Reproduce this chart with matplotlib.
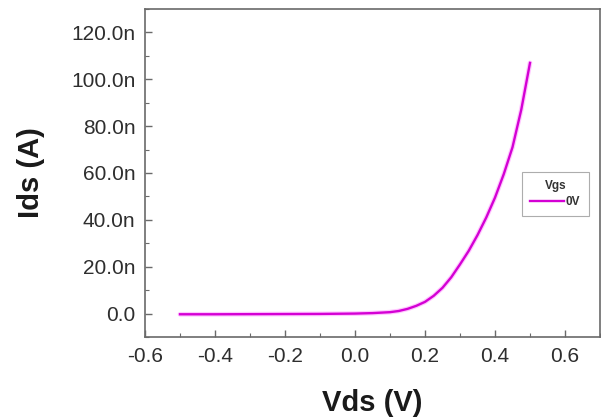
import matplotlib
matplotlib.use("Agg")
import matplotlib.pyplot as plt
from matplotlib.ticker import MultipleLocator, FuncFormatter
import numpy as np

plt.rcParams['font.family'] = ['Liberation Sans', 'DejaVu Sans']

vds = [-0.5, -0.4, -0.3, -0.2, -0.1, 0.0, 0.05, 0.1, 0.125, 0.15, 0.175, 0.2, 0.225,
       0.25, 0.275, 0.3, 0.325, 0.35, 0.375, 0.4, 0.425, 0.45, 0.475, 0.5]
ids_nA = [-0.3, -0.3, -0.25, -0.2, -0.15, 0.0, 0.2, 0.6, 1.1, 2.0, 3.3, 5.0, 7.6,
          11.0, 15.5, 21.0, 26.8, 33.5, 41.0, 49.5, 59.5, 71.0, 87.0, 107.0]
series_label = "0V"
legend_title = "Vgs"
x_label = "Vds (V)"
y_label = "Ids (A)"

ids = np.array(ids_nA) * 1e-9

fig = plt.figure(figsize=(6.01, 4.18), dpi=100)
ax = fig.add_axes([145/601, 81/418, 455/601, 328/418])

ax.plot(vds, ids, color='#ff99ff', lw=3.4, alpha=0.55, solid_capstyle='round',
        solid_joinstyle='round')
ax.plot(vds, ids, color='#d400d4', lw=1.7, label=series_label, solid_joinstyle='round')

ax.set_xlim(-0.6, 0.7)
ax.set_ylim(-10e-9, 130e-9)
ax.xaxis.set_major_locator(MultipleLocator(0.2))
ax.xaxis.set_minor_locator(MultipleLocator(0.1))
ax.yaxis.set_major_locator(MultipleLocator(20e-9))
ax.yaxis.set_minor_locator(MultipleLocator(10e-9))

def yfmt(v, pos):
    n = v * 1e9
    if abs(n) < 1e-6:
        return "0.0"
    return f"{n:.1f}n"

def xfmt(v, pos):
    if abs(v) < 1e-9:
        return "0.0"
    return f"{v:.1f}"

ax.yaxis.set_major_formatter(FuncFormatter(yfmt))
ax.xaxis.set_major_formatter(FuncFormatter(xfmt))

for s in ax.spines.values():
    s.set_color('#6a6a6a')
    s.set_linewidth(1.2)
ax.tick_params(which='both', direction='in', colors='#6a6a6a', labelcolor='#2e2e2e',
               labelsize=15, top=False, right=False)
ax.tick_params(which='major', length=5, width=1, pad=7)
ax.tick_params(which='minor', length=3, width=0.8)

ax.set_xlabel(x_label, fontsize=21, fontweight='bold', color='#1a1a1a', labelpad=17)
ax.set_ylabel(y_label, fontsize=21, fontweight='bold', color='#1a1a1a', labelpad=19)

leg = ax.legend(title=legend_title, loc='upper left', bbox_to_anchor=(0.829, 0.503),
                fontsize=8.5, title_fontproperties={'size': 8.5, 'weight': 'bold'},
                frameon=True, fancybox=False, handlelength=2.8, handletextpad=0.2,
                borderpad=0.7, labelspacing=0.3, borderaxespad=0)
leg.get_frame().set_edgecolor('#999999')
leg.get_frame().set_linewidth(0.8)
for t in leg.get_texts():
    t.set_fontweight('bold')
    t.set_color('#333333')
leg.get_title().set_color('#333333')

fig.savefig('out.png', dpi=100)
